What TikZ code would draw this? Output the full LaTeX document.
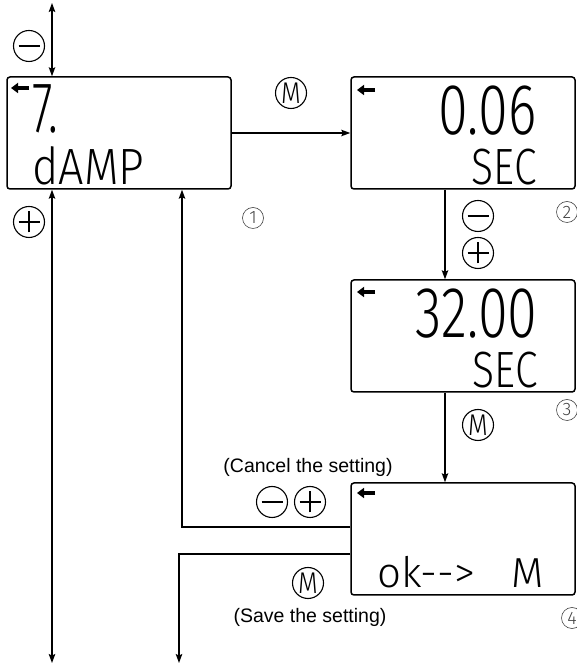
\documentclass[tikz,border=0pt]{standalone}
\usepackage{fontspec}
\setmainfont{Liberation Sans}
\newfontfamily\lcdfont{Fira Sans}[UprightFont=* Light]
\usetikzlibrary{arrows.meta}

\tikzset{
    display/.style={draw, line width=1.5pt, rounded corners=3pt,
        minimum width=224pt, minimum height=112pt, inner sep=0pt},
    lcdbig/.style={font=\lcdfont\fontsize{72}{72}\selectfont, inner sep=0pt},
    lcdmid/.style={font=\lcdfont\fontsize{51}{51}\selectfont, inner sep=0pt},
    lcdsmall/.style={font=\lcdfont\fontsize{42}{42}\selectfont, inner sep=0pt},
    lcdarrow/.style={line width=3.5pt, -{Triangle[length=7pt, width=10pt]}},
    key/.style={draw, circle, line width=1.1pt, minimum size=31pt, inner sep=0pt,
        font=\lcdfont\fontsize{30}{30}\selectfont},
    keyminus/.style={key, path picture={
            \draw[line width=1.1pt] (path picture bounding box.west) ++(5pt,0) -- ++(21pt,0);}},
    keyplus/.style={key, path picture={
            \draw[line width=1.1pt] (path picture bounding box.west) ++(5pt,0) -- ++(21pt,0);
            \draw[line width=1.1pt] (path picture bounding box.south) ++(0,5pt) -- ++(0,21pt);}},
    stepnum/.style={draw=black!75, text=black!75, circle, line width=0.6pt,
        minimum size=21pt, inner sep=0pt, font=\lcdfont\fontsize{18}{18}\selectfont},
    caption/.style={font=\fontsize{19.5}{23}\selectfont, inner sep=0pt},
}

\begin{document}
\begin{tikzpicture}[x=1pt, y=1pt, line width=1.1pt,
        >={Stealth[length=9pt, width=6.5pt, inset=1.5pt]}]
    \useasboundingbox (0,0) rectangle (577,666);

    \node[display] (dispA) at (119,533) {};
    \node[display] (dispB) at (463,533) {};
    \node[display] (dispC) at (463,330) {};
    \node[display] (dispD) at (463,127) {};

    \foreach \x/\y in {11/578, 357/576, 357/374, 357/173} {
            \draw[lcdarrow] (\x+18,\y) -- (\x,\y);
        }

    \node[lcdbig, anchor=base west] (valA) at (32,533) {\scalebox{0.65}[1]{7.}};
    \node[lcdmid, anchor=base west] (nameA) at (32,481) {\scalebox{0.88}[1]{dAMP}};
    \node[lcdbig, anchor=base east] (valB) at (537,531) {\scalebox{0.75}[1]{0.06}};
    \node[lcdmid, anchor=base east] (unitB) at (537,481) {\scalebox{0.8}[1]{SEC}};
    \node[lcdbig, anchor=base east] (valC) at (538,328) {\scalebox{0.75}[1]{32.00}};
    \node[lcdmid, anchor=base east] (unitC) at (538,278) {\scalebox{0.8}[1]{SEC}};
    \node[lcdsmall, anchor=base west] (msgD) at (377,78) {ok-{}-{}>\hspace{36pt}M};

    \coordinate (topL) at (52,663);
    \coordinate (botL) at (52,3);
    \coordinate (cancelL) at (182,139);
    \coordinate (saveL) at (179,112);
    \coordinate (saveEnd) at (179,3);
    \coordinate (midcol) at (445,0);

    \draw[<->] (topL) -- (topL |- dispA.north);
    \draw[<->] (botL |- dispA.south) -- (botL);
    \draw[->] (dispA.east) -- (dispB.west);
    \draw[->] (midcol |- dispB.south) -- (midcol |- dispC.north);
    \draw[->] (midcol |- dispC.south) -- (midcol |- dispD.north);
    \draw[->] (dispD.west |- cancelL) -- (cancelL) -- (cancelL |- dispA.south);
    \draw[->] (dispD.west |- saveL) -- (saveL) -- (saveEnd);

    \node[keyminus] (minusA) at (29,620) {};
    \node[keyplus] (plusA) at (29,444) {};
    \node[key] (modeA) at (291,573) {\scalebox{0.85}[1]{M}};
    \node[keyminus] (minusB) at (478,450) {};
    \node[keyplus] (plusB) at (478,413) {};
    \node[key] (modeB) at (478,241) {\scalebox{0.85}[1]{M}};
    \node[keyminus] (minusC) at (272,164) {};
    \node[keyplus] (plusC) at (310,164) {};
    \node[key] (modeC) at (308,83) {\scalebox{0.85}[1]{M}};

    \node[caption] (cancelTxt) at (308,199) {(Cancel the setting)};
    \node[caption] (saveTxt) at (310,49) {(Save the setting)};

    \node[stepnum] (stepA) at (253,448) {1};
    \node[stepnum] (stepB) at (567,454) {2};
    \node[stepnum] (stepC) at (567,256) {3};
    \node[stepnum] (stepD) at (572,48) {4};

\end{tikzpicture}
\end{document}
